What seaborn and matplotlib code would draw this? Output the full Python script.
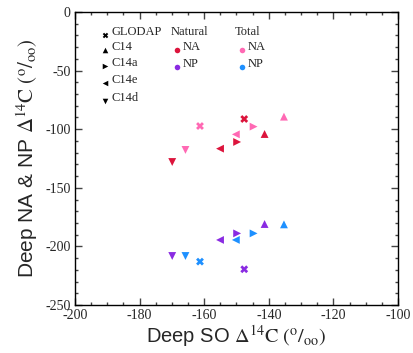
import pandas as pd
import matplotlib.pyplot as plt
import seaborn as sns
from matplotlib.ticker import MultipleLocator

# Data (Deep SO vs Deep NA/NP radiocarbon, permil)
experiments = ["GLODAP", "C14", "C14a", "C14e", "C14d"]
so_natural = [-147.6, -141.3, -149.8, -155.1, -169.9]
so_total = [-161.3, -135.3, -144.7, -150.2, -165.8]
na_natural = [-91.3, -104.1, -110.9, -116.6, -128.0]
na_total = [-97.3, -89.3, -97.8, -104.4, -117.7]
np_natural = [-219.5, -180.9, -188.9, -194.5, -208.2]
np_total = [-213.0, -181.2, -188.9, -194.5, -208.2]

colors = {
    "NA Natural": "#DC143C",
    "NA Total": "#FF69B4",
    "NP Natural": "#8A2BE2",
    "NP Total": "#1E90FF",
}
markers = {"GLODAP": "X", "C14": "^", "C14a": ">", "C14e": "<", "C14d": "v"}

rows = []
for series, xs, ys in [
    ("NA Natural", so_natural, na_natural),
    ("NA Total", so_total, na_total),
    ("NP Natural", so_natural, np_natural),
    ("NP Total", so_total, np_total),
]:
    for exp, x, y in zip(experiments, xs, ys):
        rows.append({"series": series, "experiment": exp, "so": x, "deep": y})
df = pd.DataFrame(rows)

sns.set_theme(style="ticks")
plt.rcParams["font.family"] = ["Liberation Serif", "DejaVu Serif"]
plt.rcParams["mathtext.fontset"] = "stix"
plt.rcParams["axes.unicode_minus"] = False
plt.rcParams["xtick.direction"] = "in"
plt.rcParams["ytick.direction"] = "in"

fig = plt.figure(figsize=(4.13, 3.53), dpi=100)
ax = fig.add_axes([0.1816, 0.136, 0.782, 0.830])

sns.scatterplot(
    data=df, x="so", y="deep", hue="series", style="experiment",
    palette=colors, markers=markers, s=32, linewidth=0, legend=False, ax=ax
)

ax.set_xlim(-200, -100)
ax.set_ylim(-250, 0)
ax.xaxis.set_major_locator(MultipleLocator(20))
ax.xaxis.set_minor_locator(MultipleLocator(5))
ax.yaxis.set_major_locator(MultipleLocator(50))
ax.yaxis.set_minor_locator(MultipleLocator(10))
ax.tick_params(which="both", top=True, right=True, labelsize=10, color="#444444")
ax.tick_params(which="major", length=5, width=1, pad=3)
ax.tick_params(which="minor", length=2.5, width=1)
for sp in ax.spines.values():
    sp.set_linewidth(1)
    sp.set_color("black")

ax.set_xlabel(r"Deep SO $\Delta^{14}\mathrm{C}\ (^{\mathrm{o}}/_{\mathrm{oo}})$",
              family="Liberation Sans", fontsize=14.5, labelpad=1)
ax.set_ylabel(r"Deep NA & NP $\Delta^{14}\mathrm{C}\ (^{\mathrm{o}}/_{\mathrm{oo}})$",
              family="Liberation Sans", fontsize=15, labelpad=4)

# hand-built legend inside the axes
tr = ax.transAxes
leg_rows = [0.932, 0.880, 0.826, 0.768, 0.707]
for exp, ry in zip(experiments, leg_rows):
    ax.scatter(0.093, ry - 0.01, marker=markers[exp], s=16, color="black",
               linewidth=0, transform=tr)
    ax.text(0.113, ry, exp, transform=tr, fontsize=9, va="center")
ax.text(0.295, 0.932, "Natural", transform=tr, fontsize=9, va="center")
ax.text(0.495, 0.932, "Total", transform=tr, fontsize=9, va="center")
for lab, ry, kn, kt in [("NA", 0.880, "NA Natural", "NA Total"),
                        ("NP", 0.823, "NP Natural", "NP Total")]:
    ax.scatter(0.317, ry - 0.01, marker="o", s=16, color=colors[kn],
               linewidth=0, transform=tr)
    ax.text(0.333, ry, lab, transform=tr, fontsize=9, va="center")
    ax.scatter(0.518, ry - 0.01, marker="o", s=16, color=colors[kt],
               linewidth=0, transform=tr)
    ax.text(0.535, ry, lab, transform=tr, fontsize=9, va="center")

fig.savefig("out.png", dpi=100)
